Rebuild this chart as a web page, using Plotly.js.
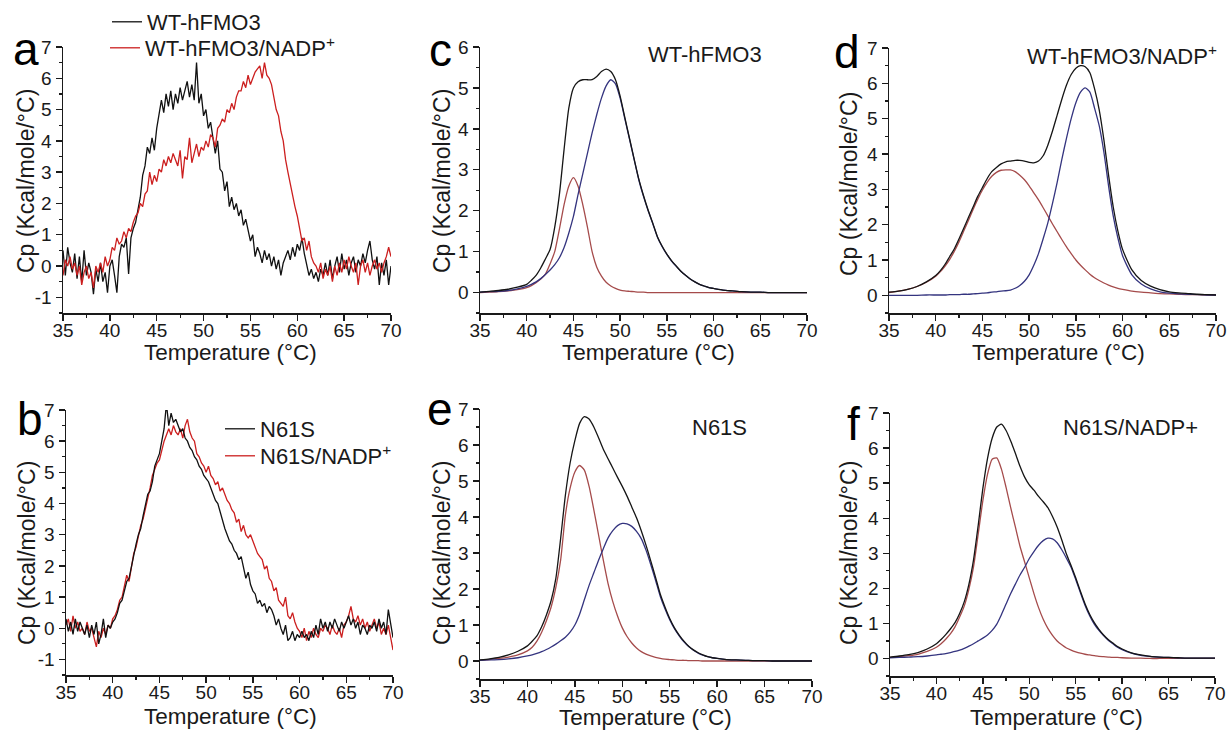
<!DOCTYPE html>
<html>
<head>
<meta charset="utf-8">
<script src="https://cdn.plot.ly/plotly-3.0.1.min.js"></script>
<style>html,body{margin:0;padding:0;background:#fff;}#chart{width:1227px;height:731px;}</style>
</head>
<body>
<div id="chart"></div>
<script>
// ---------- DATA ----------
// Raw DSC scans (panels a, b): sampled every 0.25 °C from 35 to 70 °C
const rawStart = 35, rawStep = 0.25, rawCount = 141;

const aWT = [
 0.5,-0.3,0.6,0.1,  -0.2,0.4,-0.4,0.3,  -0.5,0.5,-0.3,0.1,  -0.2,-0.9,-0.1,-0.5,
 0.1,-0.5,-0.2,-0.85,  0.0,0.2,-0.3,-0.85,  0.3,0.7,0.6,0.9,  -0.25,0.9,1.2,1.4,
 1.8,2.2,2.9,3.2,  3.8,3.6,4.1,3.7,  4.4,4.8,5.3,4.9,  5.5,5.1,5.6,5.0,
 5.5,5.2,5.7,5.3,  5.6,5.9,5.4,5.8,  5.3,6.5,5.2,5.5,  4.8,5.0,4.4,4.6,
 4.1,3.6,4.0,3.1,  3.0,2.4,2.7,1.9,  2.2,1.8,2.0,1.6,  1.8,1.3,1.5,1.1,
 0.8,1.0,0.3,0.6,  0.4,0.1,0.5,0.2,  0.4,0.0,0.3,-0.1,  0.2,-0.3,0.1,0.3,
 0.5,0.2,0.6,0.3,  0.7,0.5,0.9,0.4,  0.0,-0.3,-0.1,-0.4,  -0.2,-0.5,-0.1,-0.3,
 0.1,-0.3,0.2,-0.4,  0.0,0.3,-0.2,0.4,  -0.1,0.2,-0.3,0.1,  0.3,-0.2,0.2,0.0,
 0.4,0.1,0.5,0.8,  0.2,-0.1,0.3,-0.6,  0.1,-0.3,0.2,-0.6,  0.0];

const aNADP = [
 -0.3,0.2,0.0,0.3,  -0.1,0.1,-0.3,0.0,  -0.6,-0.2,0.0,-0.4,  -0.2,-0.7,0.0,-0.2,
 0.1,-0.2,0.3,0.0,  0.2,0.6,0.5,0.9,  0.7,0.8,1.1,0.9,  1.2,1.1,1.4,1.6,
 1.7,2.0,1.9,2.3,  2.4,3.0,2.6,2.9,  2.7,3.1,3.0,3.4,  3.2,3.5,3.3,3.6,
 3.4,3.2,3.7,2.8,  3.5,3.4,4.1,3.3,  3.6,3.9,3.5,3.8,  3.7,4.0,3.8,4.2,
 4.1,3.8,4.4,4.5,  4.7,4.6,5.0,4.9,  5.2,5.0,5.4,5.6,  5.6,5.9,5.7,6.1,
 5.8,6.0,6.2,6.3,  6.4,6.0,6.5,6.1,  6.0,5.8,5.4,5.0,  4.8,4.3,4.0,3.4,
 3.0,2.6,2.3,1.9,  1.6,1.2,0.8,0.9,  0.5,0.8,0.3,0.1,  0.0,-0.2,0.1,-0.4,
 -0.1,-0.3,0.0,-0.5,  0.0,-0.3,0.1,-0.2,  0.2,-0.1,0.3,0.0,  -0.2,0.1,-0.6,0.0,
 0.2,-0.2,0.1,-0.3,  0.0,0.2,-0.1,0.1,  -0.2,0.1,0.3,0.6,  0.3];

const bN61S = [
 0.3,-0.1,0.2,-0.2,  0.3,-0.1,0.2,0.0,  -0.2,0.1,-0.3,0.1,  -0.2,0.2,-0.5,-0.2,
 0.3,-0.3,0.1,0.0,  0.2,0.3,0.5,0.8,  0.9,1.2,1.5,1.6,  2.0,2.3,2.7,3.0,
 3.2,3.6,4.0,4.3,  4.4,4.7,5.2,5.4,  5.6,6.0,6.4,7.2,  6.5,6.9,6.6,6.7,
 6.5,6.3,6.4,6.1,  6.0,5.8,5.7,5.5,  5.4,5.2,5.1,4.9,  4.8,4.7,4.5,4.3,
 4.1,4.0,3.7,3.5,  3.2,3.0,2.8,2.7,  2.5,2.4,2.2,2.3,  1.9,1.6,1.8,1.4,
 1.2,1.1,0.8,0.9,  0.7,0.8,0.5,0.7,  0.6,0.4,0.1,0.3,  0.0,-0.2,0.1,-0.4,
 -0.3,-0.1,-0.4,-0.2,  -0.3,-0.1,-0.3,-0.2,  -0.4,-0.1,-0.3,0.1,  -0.2,0.3,0.0,0.2,
 -0.1,0.2,0.0,0.3,  0.1,-0.1,0.2,0.0,  0.2,0.4,0.1,0.3,  0.0,0.2,-0.2,0.1,
 0.0,-0.2,0.1,0.0,  0.2,-0.1,0.3,0.0,  0.2,-0.2,0.6,0.1,  -0.3];

const bNADP = [
 0.1,0.3,-0.1,0.4,  0.0,0.2,-0.1,0.0,  -0.2,0.2,-0.1,0.0,  -0.3,-0.6,-0.1,-0.3,
 0.0,-0.2,0.1,0.0,  0.3,0.4,0.6,0.9,  1.0,1.3,1.7,1.5,  2.0,2.4,2.6,3.0,
 3.3,3.5,3.8,4.2,  4.5,4.9,5.1,5.3,  5.4,5.7,6.0,6.2,  6.4,6.2,6.5,6.3,
 6.2,6.4,6.1,6.5,  6.7,6.3,6.1,6.0,  5.6,5.5,5.3,5.2,  5.0,5.2,4.9,4.8,
 4.6,4.7,4.4,4.5,  4.3,4.1,4.0,3.8,  3.7,3.4,3.5,3.1,  3.3,3.0,2.9,3.0,
 2.8,2.6,2.4,2.3,  2.2,1.9,2.0,1.6,  1.5,1.2,1.3,0.9,  0.8,0.7,1.0,0.4,
 0.3,0.5,0.2,0.0,  -0.1,-0.3,0.0,-0.4,  -0.1,-0.3,0.0,-0.2,  -0.3,0.0,-0.1,0.1,
 0.0,-0.2,0.1,-0.1,  -0.2,0.0,-0.3,0.1,  0.2,0.4,0.7,0.3,  0.2,0.4,0.1,0.3,
 0.0,0.2,-0.1,0.1,  0.3,0.0,0.2,-0.2,  0.0,-0.2,0.1,-0.3,  -0.7];

// Deconvolution fits (panels c-f)
const tempFit = [35,36,37,38,39,
 40,40.5,41,41.5,42,42.5,43,43.5,44,44.5,
 45,45.5,46,46.5,47,47.5,48,48.5,49,49.5,
 50,50.5,51,51.5,52,52.5,53,53.5,54,54.5,
 55,55.5,56,56.5,57,57.5,58,58.5,59,59.5,
 60,61,62,63,64,65,66,67,68,69,70];

const cTotal = [0.01,0.03,0.05,0.08,0.13,
 0.2,0.3,0.42,0.6,0.82,1.05,1.6,2.4,3.5,4.5,
 5.0,5.15,5.2,5.2,5.2,5.28,5.4,5.46,5.4,5.2,
 4.8,4.28,3.77,3.26,2.77,2.37,2.01,1.69,1.36,1.13,
 0.94,0.78,0.65,0.52,0.42,0.33,0.26,0.2,0.16,0.12,
 0.1,0.06,0.04,0.02,0.01,0.01,0,0,0,0,0];
const cPeak1 = [0,0.01,0.02,0.04,0.07,
 0.12,0.17,0.24,0.33,0.45,0.7,1.0,1.55,2.15,2.6,
 2.81,2.6,2.15,1.6,1.0,0.62,0.4,0.25,0.16,0.1,
 0.06,0.04,0.03,0.02,0.01,0.01,0,0,0,0,
 0,0,0,0,0,0,0,0,0,0,
 0,0,0,0,0,0,0,0,0,0,0];
const cPeak2 = [0.01,0.02,0.03,0.05,0.09,
 0.15,0.2,0.26,0.34,0.44,0.55,0.68,0.85,1.1,1.45,
 1.86,2.4,2.9,3.4,3.9,4.35,4.75,5.05,5.2,5.1,
 4.75,4.25,3.75,3.25,2.75,2.35,2.0,1.68,1.35,1.12,
 0.93,0.77,0.64,0.52,0.42,0.33,0.26,0.2,0.16,0.12,
 0.1,0.06,0.04,0.02,0.01,0.01,0,0,0,0,0];

const dTotal = [0.09,0.12,0.17,0.25,0.38,
 0.56,0.7,0.88,1.1,1.32,1.6,1.9,2.2,2.5,2.8,
 3.05,3.3,3.5,3.62,3.72,3.78,3.8,3.82,3.82,3.8,
 3.76,3.75,3.8,3.95,4.25,4.65,5.1,5.55,5.95,6.25,
 6.43,6.5,6.47,6.3,5.85,5.25,4.4,3.4,2.5,1.82,
 1.3,0.72,0.42,0.26,0.16,0.1,0.07,0.05,0.03,0.02,0.01];
const dPeak1 = [0.08,0.12,0.17,0.25,0.37,
 0.54,0.67,0.83,1.02,1.25,1.52,1.82,2.12,2.43,2.72,
 2.98,3.2,3.37,3.48,3.54,3.55,3.55,3.5,3.4,3.27,
 3.1,2.9,2.7,2.48,2.25,2.02,1.8,1.58,1.37,1.18,
 1.0,0.85,0.72,0.6,0.5,0.42,0.35,0.29,0.24,0.2,
 0.17,0.12,0.09,0.07,0.05,0.04,0.03,0.02,0.02,0.01,0.01];
const dPeak2 = [0,0,0,0,0.01,
 0.01,0.01,0.01,0.02,0.02,0.02,0.03,0.03,0.04,0.05,
 0.06,0.07,0.09,0.1,0.12,0.13,0.15,0.2,0.28,0.4,
 0.58,0.85,1.18,1.6,2.05,2.6,3.2,3.85,4.45,5.0,
 5.45,5.75,5.87,5.75,5.3,4.8,4.05,3.1,2.25,1.62,
 1.12,0.58,0.32,0.18,0.1,0.06,0.04,0.03,0.02,0.01,0.01];

const eTotal = [0.03,0.06,0.1,0.17,0.27,
 0.42,0.55,0.7,0.95,1.28,1.68,2.3,3.4,4.6,5.5,
 6.12,6.6,6.79,6.72,6.5,6.2,5.88,5.62,5.36,5.1,
 4.85,4.58,4.28,3.98,3.62,3.22,2.78,2.33,1.86,1.5,
 1.18,0.92,0.72,0.55,0.41,0.31,0.23,0.17,0.12,0.09,
 0.07,0.04,0.03,0.02,0.01,0.01,0,0,0,0,0];
const ePeak1 = [0.02,0.04,0.07,0.11,0.17,
 0.28,0.38,0.55,0.8,1.12,1.5,2.05,2.8,4.05,4.8,
 5.25,5.43,5.3,4.85,4.2,3.5,2.8,2.15,1.65,1.25,
 0.92,0.68,0.5,0.36,0.26,0.19,0.14,0.1,0.07,0.05,
 0.04,0.03,0.02,0.02,0.01,0.01,0.01,0,0,0,
 0,0,0,0,0,0,0,0,0,0,0];
const ePeak2 = [0.02,0.03,0.04,0.06,0.09,
 0.14,0.17,0.21,0.26,0.32,0.39,0.47,0.56,0.66,0.8,
 1.0,1.3,1.7,2.1,2.45,2.8,3.12,3.42,3.62,3.76,
 3.82,3.81,3.74,3.6,3.4,3.08,2.68,2.25,1.8,1.45,
 1.15,0.9,0.7,0.53,0.4,0.3,0.22,0.16,0.12,0.09,
 0.07,0.04,0.03,0.02,0.01,0.01,0,0,0,0,0];

const fTotal = [0.04,0.07,0.11,0.17,0.27,
 0.42,0.54,0.68,0.84,1.02,1.28,1.62,2.12,2.82,3.8,
 4.85,5.7,6.28,6.6,6.68,6.5,6.2,5.85,5.48,5.17,
 4.95,4.8,4.62,4.47,4.3,4.05,3.75,3.38,2.98,2.65,
 2.3,1.92,1.56,1.26,1.02,0.83,0.67,0.54,0.44,0.34,
 0.27,0.16,0.1,0.06,0.04,0.03,0.02,0.01,0.01,0.01,0.01];
const fPeak1 = [0.03,0.05,0.08,0.12,0.2,
 0.32,0.42,0.55,0.7,0.9,1.18,1.5,1.98,2.62,3.55,
 4.5,5.25,5.68,5.72,5.4,4.88,4.3,3.75,3.2,2.75,
 2.3,1.85,1.45,1.12,0.86,0.66,0.5,0.39,0.3,0.24,
 0.19,0.15,0.12,0.1,0.08,0.06,0.05,0.04,0.03,0.03,
 0.02,0.01,0.01,0,0,0,0,0,0,0,0];
const fPeak2 = [0.02,0.03,0.04,0.05,0.07,
 0.1,0.12,0.14,0.17,0.2,0.24,0.29,0.35,0.42,0.5,
 0.58,0.67,0.8,0.98,1.25,1.55,1.85,2.12,2.38,2.6,
 2.85,3.05,3.23,3.36,3.43,3.41,3.3,3.1,2.86,2.6,
 2.25,1.88,1.52,1.22,0.98,0.8,0.65,0.52,0.42,0.32,
 0.25,0.15,0.09,0.06,0.04,0.03,0.02,0.01,0.01,0.01,0.01];

// Ticks and labels
const tempTicks = [35,40,45,50,55,60,65,70];
const tempTickText = ['35','40','45','50','55','60','65','70'];
const cpTicksAB = [-1,0,1,2,3,4,5,6,7];
const cpTickTextAB = ['-1','0','1','2','3','4','5','6','7'];
const cpTicksC = [0,1,2,3,4,5,6];
const cpTickTextC = ['0','1','2','3','4','5','6'];
const cpTicksDEF = [0,1,2,3,4,5,6,7];
const cpTickTextDEF = ['0','1','2','3','4','5','6','7'];

const seriesNames = ['WT-hFMO3','WT-hFMO3/NADP<sup>+</sup>','N61S','N61S/NADP<sup>+</sup>'];
const panelLetters = ['a','b','c','d','e','f'];
const panelTitles = ['WT-hFMO3','WT-hFMO3/NADP<sup>+</sup>','N61S','N61S/NADP+'];
const xTitle = 'Temperature (°C)';
const yTitle = 'Cp (Kcal/mole/°C)';

// ---------- BUILD ----------
const W = 1227, H = 731;
const tempRaw = [];
for (let i = 0; i < rawCount; i++) tempRaw.push(+(rawStart + i * rawStep).toFixed(2));

const FONT = 'Liberation Sans, Arial, Helvetica, sans-serif';
const INK = '#1a1a1a';
const RAW_BLACK = '#111111', RAW_RED = '#cc1f1f';
const FIT_BLACK = '#151515', FIT_RED = '#a54b4b', FIT_BLUE = '#34347f';

const px = v => v / W;
const py = v => 1 - v / H;

function xAxis(l, r, anchor) {
  return {
    domain: [px(l), px(r)], anchor: anchor, range: [35, 70],
    tickmode: 'array', tickvals: tempTicks, ticktext: tempTickText,
    ticks: 'outside', ticklen: 6, tickwidth: 1.4, tickcolor: INK,
    minor: {ticks: 'outside', ticklen: 3, tickwidth: 1.2, tickcolor: INK, tickmode: 'linear', tick0: 35, dtick: 2.5, showgrid: false},
    showline: true, linecolor: INK, linewidth: 1.5, showgrid: false, zeroline: false,
    tickfont: {family: FONT, size: 19, color: INK}, ticklabeloverflow: 'allow', ticklabelstandoff: -6,
    fixedrange: true, automargin: false
  };
}
function yAxis(t, b, anchor, range, vals, text) {
  return {
    domain: [py(b), py(t)], anchor: anchor, range: range,
    tickmode: 'array', tickvals: vals, ticktext: text,
    ticks: 'outside', ticklen: 6, tickwidth: 1.4, tickcolor: INK,
    minor: {ticks: 'outside', ticklen: 3, tickwidth: 1.2, tickcolor: INK, tickmode: 'linear', tick0: 0, dtick: 0.5, showgrid: false},
    showline: true, linecolor: INK, linewidth: 1.5, showgrid: false, zeroline: false,
    tickfont: {family: FONT, size: 19, color: INK}, ticklabeloverflow: 'allow',
    fixedrange: true, automargin: false
  };
}

const raw = (y, xa, ya, color, name, leg) => ({
  x: tempRaw, y: y, xaxis: xa, yaxis: ya, type: 'scatter', mode: 'lines',
  line: {color: color, width: 1.3}, name: name, legend: leg, showlegend: true, hoverinfo: 'skip'
});
const fit = (y, xa, ya, color) => ({
  x: tempFit, y: y, xaxis: xa, yaxis: ya, type: 'scatter', mode: 'lines',
  line: {color: color, width: 1.3, shape: 'spline', smoothing: 0.6}, showlegend: false, hoverinfo: 'skip'
});

const data = [
  raw(aWT, 'x', 'y', RAW_BLACK, seriesNames[0], 'legend'),
  raw(aNADP, 'x', 'y', RAW_RED, seriesNames[1], 'legend2'),
  raw(bNADP, 'x2', 'y2', RAW_RED, seriesNames[3], 'legend4'),
  raw(bN61S, 'x2', 'y2', RAW_BLACK, seriesNames[2], 'legend3'),
  fit(cPeak1, 'x3', 'y3', FIT_RED), fit(cPeak2, 'x3', 'y3', FIT_BLUE), fit(cTotal, 'x3', 'y3', FIT_BLACK),
  fit(dPeak1, 'x4', 'y4', FIT_RED), fit(dPeak2, 'x4', 'y4', FIT_BLUE), fit(dTotal, 'x4', 'y4', FIT_BLACK),
  fit(ePeak1, 'x5', 'y5', FIT_RED), fit(ePeak2, 'x5', 'y5', FIT_BLUE), fit(eTotal, 'x5', 'y5', FIT_BLACK),
  fit(fPeak1, 'x6', 'y6', FIT_RED), fit(fPeak2, 'x6', 'y6', FIT_BLUE), fit(fTotal, 'x6', 'y6', FIT_BLACK)
];

const legendBase = (x, y) => ({
  x: px(x), y: py(y), xanchor: 'left', yanchor: 'middle', bgcolor: 'rgba(0,0,0,0)',
  borderwidth: 0, font: {family: FONT, size: 22, color: INK}, itemwidth: 30, tracegroupgap: 0
});

const note = (t, x, y, size, opts) => Object.assign({
  text: t, x: px(x), y: py(y), xref: 'paper', yref: 'paper', xanchor: 'center', yanchor: 'middle',
  showarrow: false, font: {family: FONT, size: size, color: INK}
}, opts || {});
const letter = (t, x, y) => note(t, x, y, 46, {font: {family: FONT, size: 46, color: '#000'}});
const subTitle = (t, x, y, anchor) => note(t, x, y, 22, {xanchor: anchor || 'center'});
const xLab = (x, y) => note(xTitle, x, y, 22.5);
const yLab = (x, y) => note(yTitle, x, y, 23, {textangle: -90});

const layout = {
  width: W, height: H, margin: {l: 0, r: 0, t: 0, b: 0},
  paper_bgcolor: '#fff', plot_bgcolor: 'rgba(0,0,0,0)', showlegend: true,
  xaxis: xAxis(63, 391, 'y'),   yaxis: yAxis(47, 313, 'x', [-1.5, 7], cpTicksAB, cpTickTextAB),
  xaxis2: xAxis(66, 393, 'y2'), yaxis2: yAxis(410, 675, 'x2', [-1.5, 7], cpTicksAB, cpTickTextAB),
  xaxis3: xAxis(480, 807, 'y3'), yaxis3: yAxis(47, 313, 'x3', [-0.5, 6], cpTicksC, cpTickTextC),
  xaxis4: xAxis(889, 1216, 'y4'), yaxis4: yAxis(48, 313, 'x4', [-0.5, 7], cpTicksDEF, cpTickTextDEF),
  xaxis5: xAxis(480, 812, 'y5'), yaxis5: yAxis(409, 679, 'x5', [-0.5, 7], cpTicksDEF, cpTickTextDEF),
  xaxis6: xAxis(890, 1215, 'y6'), yaxis6: yAxis(413, 676, 'x6', [-0.5, 7], cpTicksDEF, cpTickTextDEF),
  legend: legendBase(107, 22),
  legend2: legendBase(105, 48),
  legend3: legendBase(220, 429),
  legend4: legendBase(220, 456),
  annotations: [
    letter(panelLetters[0], 26, 49), letter(panelLetters[1], 30, 419),
    letter(panelLetters[2], 440, 50), letter(panelLetters[3], 847, 52),
    letter(panelLetters[4], 440, 409), letter(panelLetters[5], 853, 424),
    subTitle(panelTitles[0], 705, 55), subTitle(panelTitles[1], 1219, 55, 'right'),
    subTitle(panelTitles[2], 719, 427), subTitle(panelTitles[3], 1130, 427),
    xLab(230, 352), xLab(230, 716), xLab(648, 352), xLab(1058, 352), xLab(645, 717), xLab(1056, 717),
    yLab(26, 181), yLab(27, 553), yLab(442, 181), yLab(849, 184), yLab(442, 553), yLab(849, 553)
  ]
};

Plotly.newPlot('chart', data, layout, {displayModeBar: false, staticPlot: true});
</script>
</body>
</html>
